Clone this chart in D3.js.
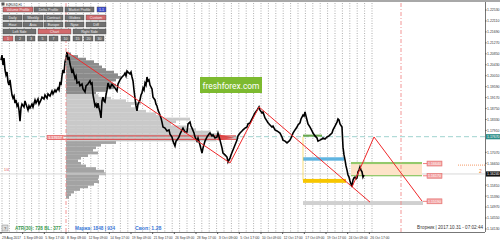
<!DOCTYPE html>
<html>
<head>
<meta charset="utf-8">
<script src="https://cdn.jsdelivr.net/npm/d3@7/dist/d3.min.js"></script>
<style>
  body { margin: 0; background: #fff; }
  svg { display: block; font-family: "Liberation Sans Narrow", "Liberation Sans", "DejaVu Sans", sans-serif; }
</style>
</head>
<body>
<div id="chart"></div>
<script>
// price trace, EURUSD H1 (hours from first bar, price)
const priceHours = [0,3,6,9,12,15,18,21,24,27,30,33,36,39,42,45,48,51,54,57,60,63,69,72,75,81,84,87,93,96,102,105,111,114,120,123,129,132,138,141,147,153,156,162,165,171,174,177,180,183,186,189,192,195,198,
  201,204,207,210,213,216,222,225,228,234,237,243,246,252,255,261,267,270,273,276,282,285,288,291,294,297,300,303,306,309,312,315,318,321,324,327,333,336,342,348,351,357,363,369,372,375,378,381,387,390,393,396,399,402,405,408,411,414,417,420,423,426,429,432,435,438,441,444,447,453,456,462,465,468,471,477,480,483,486,492,498,504,507,513,516,522,525,528,534,537,543,546,552,558,561,567,570,573,579,582,588,591,597,603,606,612,618,624,627,633,636,642,648,651,657,663,666,672,678,681,687,690,696,702,708,711,717,723,726,732,738,741,747,753,756,762,768,774,777,783,786,792,798,801,807,813,816,822,828,837,843,846,852,858,864,867,873,876,882,888,891,897,900,906,909,912,915,918,921,927,933,936,942,948,951,957,963,966,972,978,984,987,993,996,1002,1008,1011,1014,1017,1023,1026,1029,1032,1035,1038,1041,1044,1047,1050,1053,1056,1059,1062,1065,1068,1071,1074,1077,1080,1083,1086,1089];
const priceValues = [1.2061,1.2080,1.2042,1.2069,1.2023,1.2004,1.2015,1.1977,1.1965,1.1985,1.1954,1.1927,1.1915,1.1923,1.1896,1.1908,1.1885,1.1892,1.1869,1.1827,1.1877,1.1892,1.1881,1.1904,1.1892,1.1869,1.1885,1.1877,1.1892,1.1881,1.1908,1.1896,1.1912,1.1892,1.1908,1.1919,1.1912,1.1927,1.1915,1.1931,1.1923,1.1942,1.1931,1.1946,1.1939,1.1954,1.1946,1.1977,1.1965,1.2000,1.2023,1.2011,1.2054,1.2069,1.2092,
  1.2061,1.2073,1.2046,1.2031,1.2011,1.2023,1.1992,1.2000,1.1973,1.1977,1.1962,1.1969,1.1950,1.1939,1.1962,1.1969,1.1981,1.1969,1.1973,1.1927,1.1885,1.1892,1.1877,1.1896,1.1877,1.1862,1.1839,1.1904,1.1919,1.1904,1.1900,1.1927,1.1946,1.1973,1.1962,1.1954,1.1969,1.1962,1.1954,1.1942,1.1969,1.1985,1.1996,1.2004,1.2011,1.2000,1.2019,1.2015,1.2008,1.2015,1.1996,1.1981,1.1946,1.1915,1.1885,1.1866,1.1892,1.1900,1.1908,1.1927,1.1935,1.1954,1.1946,1.1973,1.1965,1.1996,1.1981,1.1985,1.1965,1.1950,1.1919,1.1908,1.1892,1.1885,1.1869,1.1850,1.1839,1.1823,1.1804,1.1800,1.1789,1.1793,1.1777,1.1766,1.1750,1.1731,1.1750,1.1754,1.1766,1.1777,1.1793,1.1800,1.1785,1.1785,1.1816,1.1823,1.1808,1.1800,1.1781,1.1766,1.1750,1.1762,1.1735,1.1704,1.1724,1.1750,1.1766,1.1777,1.1781,1.1770,1.1774,1.1762,1.1766,1.1781,1.1754,1.1724,1.1704,1.1697,1.1689,1.1670,1.1685,1.1697,1.1716,1.1735,1.1754,1.1770,1.1781,1.1789,1.1793,1.1800,1.1804,1.1816,1.1820,1.1835,1.1843,1.1858,1.1869,1.1881,1.1869,1.1858,1.1862,1.1839,1.1827,1.1820,1.1812,1.1804,1.1808,1.1793,1.1789,1.1781,1.1766,1.1754,1.1750,1.1743,1.1750,1.1754,1.1770,1.1781,1.1793,1.1804,1.1812,1.1820,1.1835,1.1850,1.1846,1.1862,1.1846,1.1831,1.1816,1.1804,1.1789,1.1781,1.1770,1.1762,1.1750,1.1754,1.1758,1.1762,1.1758,1.1766,1.1770,1.1774,1.1781,1.1793,1.1808,1.1823,1.1835,1.1831,1.1816,1.1804,1.1727,1.1697,1.1678,1.1655,1.1639,1.1620,1.1612,1.1597,1.1586,1.1574,1.1601,1.1609,1.1612,1.1605,1.1609,1.1632,1.1639,1.1651,1.1639,1.1632,1.1612,1.1620];

// volume profile from 8 Sep (bin centre price, volume)
const profilePrices = [1.2085,1.2075,1.2065,1.2055,1.2045,1.2035,1.2025,1.2015,1.2005,1.1995,1.1985,1.1975,1.1965,1.1955,1.1945,1.1935,1.1925,1.1915,1.1905,1.1895,1.1885,1.1875,1.1865,1.1855,1.1845,1.1835,1.1825,1.1815,1.1805,1.1795,1.1785,1.1775,1.1765,1.1755,1.1745,1.1735,1.1725,1.1715,1.1705,1.1695,1.1685,1.1675,1.1665,1.1655,1.1645,1.1635,1.1625,1.1615,1.1605,1.1595,1.1585,1.1575,1.1565,1.1555,1.1545,1.1535];
const profileVolumes = [5,12,20,28,33,36,40,48,52,55,50,45,50,48,40,30,32,45,60,75,65,70,80,90,95,124,110,105,120,130,145,155,171,150,50,35,30,27,32,22,15,12,15,20,30,38,40,33,32,33,28,22,14,8,5,3];
const valueAreaHigh = 1.1930, valueAreaLow = 1.1750;
const profileStartHour = 195;
const pocPrices = [1.1770, 1.1757];

// zigzag segments [h1, p1, h2, p2]
const zigzag = [
  [198, 1.2092, 687, 1.1666],
  [687, 1.1666, 774, 1.1881],
  [774, 1.1881, 1107, 1.1516],
  [1053, 1.1574, 1119, 1.1766],
  [1119, 1.1766, 1263, 1.1520]
];

// level zones [h1, h2, pTop, pBottom, colour]
const zones = [
  [906, 963, 1.1775, 1.1767, "#6aa84f"],
  [906, 1029, 1.1688, 1.1675, "#5fb4e0"],
  [906, 1035, 1.1605, 1.1590, "#f7c600"],
  [906, 1266, 1.1520, 1.1505, "#d0d0d0"],
  [1050, 1263, 1.1666, 1.1620, "#fde3c8"],
  [1050, 1263, 1.1670, 1.1662, "#93c96b"],
  [1050, 1263, 1.1620, 1.1615, "#93c96b"]
];
const levelLabels = [1.1664, 1.1617, 1.1519];

const axisTicks = [1.2253,1.2211,1.2169,1.2127,1.2085,1.2043,1.2001,1.1959,1.1917,1.1875,1.1833,1.1791,1.1749,1.1707,1.1665,1.1623,1.1581,1.1539,1.1497,1.1455,1.1413];
const timeLabels = ["29 Aug 2017","1 Sep 09:00","5 Sep 17:00","8 Sep 09:00","12 Sep 09:00","14 Sep 17:00","19 Sep 09:00","21 Sep 17:00","26 Sep 09:00","28 Sep 17:00","3 Oct 09:00","5 Oct 17:00","10 Oct 09:00","12 Oct 17:00","17 Oct 09:00","19 Oct 17:00","24 Oct 09:00","26 Oct 17:00"];
const timeLabelHours = [0,65,130,195,260,325,390,455,520,585,650,715,780,845,910,975,1040,1105];

const bidPrice = 1.1624, tealPrice = 1.1767, orangePrice = 1.1658;
const futureLineHour = 1200;

const W = 500, H = 241;
const plotR = 485, plotT = 3, plotB = 232;

const svg = d3.select("#chart").append("svg")
  .attr("width", W).attr("height", H);

const x = d3.scaleLinear().domain([0, 1452]).range([1, plotR]);
const y = d3.scaleLinear().domain([1.1574, 1.2092]).range([187, 52]);

// shrink the font of a text until it fits its room
function fit(sel, maxW) {
  sel.each(function (d) {
    const room = typeof maxW === "function" ? maxW(d) : maxW;
    const w = this.getComputedTextLength();
    if (w > room) {
      const fs = parseFloat(d3.select(this).attr("font-size"));
      d3.select(this).attr("font-size", (fs * room / w).toFixed(2));
    }
  });
}

svg.append("rect").attr("x", 0).attr("y", 0).attr("width", W).attr("height", 2).attr("fill", "#a8a8a8");

// day separators
const seps = d3.range(3, 1130, 22.2);
svg.append("g").selectAll("line").data(seps).enter().append("line")
  .attr("x1", d => x(d)).attr("x2", d => x(d))
  .attr("y1", plotT).attr("y2", plotB)
  .attr("stroke", "#9a9a9a").attr("stroke-width", 0.8)
  .attr("stroke-dasharray", "1,1.5");

// volume profile
const vx = d3.scaleLinear().domain([0, d3.max(profileVolumes)]).range([0, 171]);
const binH = y(1.1750) - y(1.1760);
svg.append("g").selectAll("rect").data(profilePrices).enter().append("rect")
  .attr("x", x(profileStartHour))
  .attr("y", d => y(d) - binH / 2)
  .attr("width", (d, i) => vx(profileVolumes[i]))
  .attr("height", binH + 0.2)
  .attr("fill", d => d > valueAreaHigh ? "#8c8c8c" : (d >= valueAreaLow ? "#c9c9c9" : "#a3a3a3"));

// horizontal lines
svg.append("line").attr("x1", 0).attr("x2", plotR).attr("y1", y(tealPrice)).attr("y2", y(tealPrice))
  .attr("stroke", "#9fd3cf").attr("stroke-width", 1).attr("stroke-dasharray", "5,3");
svg.append("line").attr("x1", 0).attr("x2", plotR).attr("y1", y(bidPrice)).attr("y2", y(bidPrice))
  .attr("stroke", "#d8d8d8").attr("stroke-width", 1);

// POC lines
svg.append("g").selectAll("line").data(pocPrices).enter().append("line")
  .attr("x1", x(138)).attr("x2", x(705))
  .attr("y1", d => y(d)).attr("y2", d => y(d))
  .attr("stroke", "#e0282a").attr("stroke-width", 0.9);
svg.append("path")
  .attr("d", `M${x(650)},${y(1.1776)} L${x(700)},${y(1.1763)} L${x(650)},${y(1.1752)} Z`)
  .attr("fill", "#e03030").attr("opacity", 0.8);
svg.append("rect").attr("x", x(138)).attr("y", y(1.1772)).attr("width", x(186) - x(138)).attr("height", y(1.1757) - y(1.1772))
  .attr("fill", "#f09a9a").attr("stroke", "#e06060").attr("stroke-width", 0.5);
svg.append("text").attr("x", x(162)).attr("y", y(1.1764) + 1.5).attr("text-anchor", "middle")
  .attr("font-size", 3.8).attr("fill", "#fff").text("1.17657").call(fit, 14);

// zones
svg.append("g").selectAll("rect").data(zones).enter().append("rect")
  .attr("x", d => x(d[0])).attr("y", d => y(d[2]))
  .attr("width", d => x(d[1]) - x(d[0])).attr("height", d => y(d[3]) - y(d[2]))
  .attr("fill", d => d[4]);
svg.append("line").attr("x1", x(906)).attr("x2", x(906)).attr("y1", y(1.1767)).attr("y2", y(1.1600))
  .attr("stroke", "#f7d040").attr("stroke-width", 0.7);

// price line
const line = d3.line().x((d, i) => x(priceHours[i])).y(d => y(d));
svg.append("path").datum(priceValues).attr("d", line)
  .attr("fill", "none").attr("stroke", "#000").attr("stroke-width", 1.6).attr("stroke-linejoin", "miter");

// zigzag
svg.append("g").selectAll("line").data(zigzag).enter().append("line")
  .attr("x1", d => x(d[0])).attr("y1", d => y(d[1]))
  .attr("x2", d => x(d[2])).attr("y2", d => y(d[3]))
  .attr("stroke", "#f0282a").attr("stroke-width", 1);

// level labels
const ll = svg.append("g").selectAll("g").data(levelLabels).enter().append("g");
ll.append("line").attr("x1", x(1266)).attr("x2", x(1278)).attr("y1", d => y(d)).attr("y2", d => y(d))
  .attr("stroke", "#f06060").attr("stroke-width", 0.8);
ll.append("rect").attr("x", x(1278)).attr("y", d => y(d) - 2.5).attr("width", 15).attr("height", 5)
  .attr("fill", "#f2a0a0").attr("stroke", "#e06666").attr("stroke-width", 0.5);
ll.append("text").attr("x", x(1278) + 7.5).attr("y", d => y(d) + 1.4).attr("text-anchor", "middle")
  .attr("font-size", 3.6).attr("fill", "#fff").text(d => d.toFixed(5)).call(fit, 13);

// vertical dash-dot lines
svg.append("g").selectAll("line").data([profileStartHour, futureLineHour]).enter().append("line")
  .attr("x1", d => x(d)).attr("x2", d => x(d)).attr("y1", plotT).attr("y2", plotB)
  .attr("stroke", "#f08a8a").attr("stroke-width", 0.9).attr("stroke-dasharray", "4,2,1,2");

// orange dotted
svg.append("line").attr("x1", 458).attr("x2", plotR).attr("y1", y(orangePrice)).attr("y2", y(orangePrice))
  .attr("stroke", "#f08040").attr("stroke-width", 0.8).attr("stroke-dasharray", "1,1");
svg.append("text").attr("x", 479).attr("y", y(orangePrice) + 8).attr("font-size", 5).attr("fill", "#f08040").text("2");
svg.append("text").attr("x", 4).attr("y", 171).attr("font-size", 3.5).attr("fill", "#e05050").text("1/4");

// logo
svg.append("rect").attr("x", 200).attr("y", 77).attr("width", 62).attr("height", 16).attr("fill", "#7dba2f");
svg.append("text").attr("x", 231).attr("y", 89).attr("text-anchor", "middle").attr("font-size", 11)
  .attr("fill", "#fff").attr("font-family", "Roboto, sans-serif").text("freshforex.com").call(fit, 57);

// right axis
svg.append("rect").attr("x", plotR).attr("y", 2).attr("width", W - plotR).attr("height", H).attr("fill", "#fff");
svg.append("line").attr("x1", plotR + 0.5).attr("x2", plotR + 0.5).attr("y1", 2).attr("y2", H)
  .attr("stroke", "#777");
const ay = svg.append("g");
const ticks = axisTicks.filter(t => Math.abs(y(t) - y(bidPrice)) > 6 && Math.abs(y(t) - y(tealPrice)) > 6);
ay.selectAll("line").data(ticks).enter().append("line")
  .attr("x1", plotR).attr("x2", plotR + 1.5).attr("y1", d => y(d)).attr("y2", d => y(d)).attr("stroke", "#555");
ay.selectAll("text").data(ticks).enter().append("text")
  .attr("x", plotR + 2).attr("y", d => y(d) + 1.4).attr("font-size", 4.2).attr("fill", "#333")
  .text(d => d.toFixed(5)).call(fit, 12.5);
[[tealPrice, "#2f8f8a"], [bidPrice, "#111"]].forEach(([p, c]) => {
  ay.append("rect").attr("x", plotR + 1).attr("y", y(p) - 2.6).attr("width", 14).attr("height", 5.2).attr("fill", c);
  ay.append("text").attr("x", plotR + 2).attr("y", y(p) + 1.4).attr("font-size", 4.2).attr("fill", "#fff")
    .text(p.toFixed(5)).call(fit, 12.5);
});

// bottom axis
svg.append("rect").attr("x", 0).attr("y", plotB).attr("width", W).attr("height", H - plotB).attr("fill", "#fff");
svg.append("line").attr("x1", 0).attr("x2", plotR).attr("y1", plotB + 0.5).attr("y2", plotB + 0.5).attr("stroke", "#777");
const ax = svg.append("g");
ax.selectAll("line").data(timeLabelHours).enter().append("line")
  .attr("x1", d => x(d)).attr("x2", d => x(d)).attr("y1", plotB).attr("y2", plotB + 2).attr("stroke", "#555");
ax.selectAll("text").data(timeLabelHours).enter().append("text")
  .attr("x", d => x(d) + 1).attr("y", 238.5).attr("font-size", 4.2).attr("fill", "#333")
  .text((d, i) => timeLabels[i]).call(fit, 19);

// status texts
svg.append("rect").attr("x", 2).attr("y", 225).attr("width", 6).attr("height", 6).attr("fill", "#ddd").attr("stroke", "#888").attr("stroke-width", 0.5);
svg.append("text").attr("x", 5).attr("y", 230).attr("text-anchor", "middle").attr("font-size", 4).attr("fill", "#333").text("?");
svg.append("text").attr("x", 15).attr("y", 230).attr("font-size", 5.2).attr("font-weight", "bold").attr("fill", "#3a9a50")
  .text("ATR(30): 728   BL: 377").call(fit, 46);
svg.append("text").attr("x", 75).attr("y", 230).attr("font-size", 5.2).attr("font-weight", "bold").attr("fill", "#3a78d8")
  .text("Маржа: 1848 | 934").call(fit, 40);
svg.append("text").attr("x", 135).attr("y", 230).attr("font-size", 5.2).attr("font-weight", "bold").attr("fill", "#3a78d8")
  .text("Своп: 1.28").call(fit, 28);
svg.append("text").attr("x", 483).attr("y", 229).attr("text-anchor", "end").attr("font-size", 4.8).attr("fill", "#333")
  .text("Вторник | 2017.10.31 - 07:02:44").call(fit, 66);

// title and button panel
svg.append("text").attr("x", 6).attr("y", 5.5).attr("font-size", 4).attr("fill", "#222").text("EURUSD,H1").call(fit, 16);
svg.append("rect").attr("x", 1.5).attr("y", 2.5).attr("width", 3).attr("height", 3).attr("fill", "#555");
const buttons = [
  ["Volume Profile", 3, 7, 30, 5, "#d26a6c"], ["Delta Profile", 34, 7, 29, 5, "#707070"], ["Market Profile", 65, 7, 29, 5, "#707070"], ["1-1", 97, 7, 9, 5, "#3f4fcf"],
  ["Daily", 3, 15, 19, 5, "#707070"], ["Weekly", 23, 15, 20, 5, "#707070"], ["Contract", 44, 15, 19, 5, "#707070"], ["Globex", 65, 15, 19, 5, "#707070"], ["Custom", 86, 15, 20, 5, "#d26a6c"],
  ["Hour", 3, 22, 19, 5, "#707070"], ["Asia", 23, 22, 20, 5, "#707070"], ["Europe", 44, 22, 19, 5, "#707070"], ["Nyse", 65, 22, 19, 5, "#707070"], ["Diff", 86, 22, 20, 5, "#707070"],
  ["Left Side", 3, 29, 33, 5, "#707070"], ["Chart", 38, 29, 33, 5, "#d26a6c"], ["Right Side", 73, 29, 33, 5, "#707070"],
  ["1", 3, 36, 10, 5, "#d26a6c"], ["2", 15, 36, 10, 5, "#707070"], ["3", 27, 36, 8, 5, "#707070"], ["5", 38, 36, 9, 5, "#707070"], ["7", 49, 36, 9, 5, "#707070"],
  ["10", 61, 36, 9, 5, "#707070"], ["15", 73, 36, 9, 5, "#707070"], ["20", 84, 36, 9, 5, "#707070"], ["30", 95, 36, 9, 5, "#707070"]
];
const bg = svg.append("g").selectAll("g").data(buttons).enter().append("g");
bg.append("rect").attr("x", d => d[1]).attr("y", d => d[2]).attr("width", d => d[3]).attr("height", d => d[4])
  .attr("fill", d => d[5]).attr("stroke", "#444").attr("stroke-width", 0.4);
bg.append("text").attr("x", d => d[1] + d[3] / 2).attr("y", d => d[2] + 3.5).attr("text-anchor", "middle")
  .attr("font-size", 3.6).attr("fill", "#eee").text(d => d[0]).call(fit, d => d[3] - 3);
</script>
</body>
</html>
